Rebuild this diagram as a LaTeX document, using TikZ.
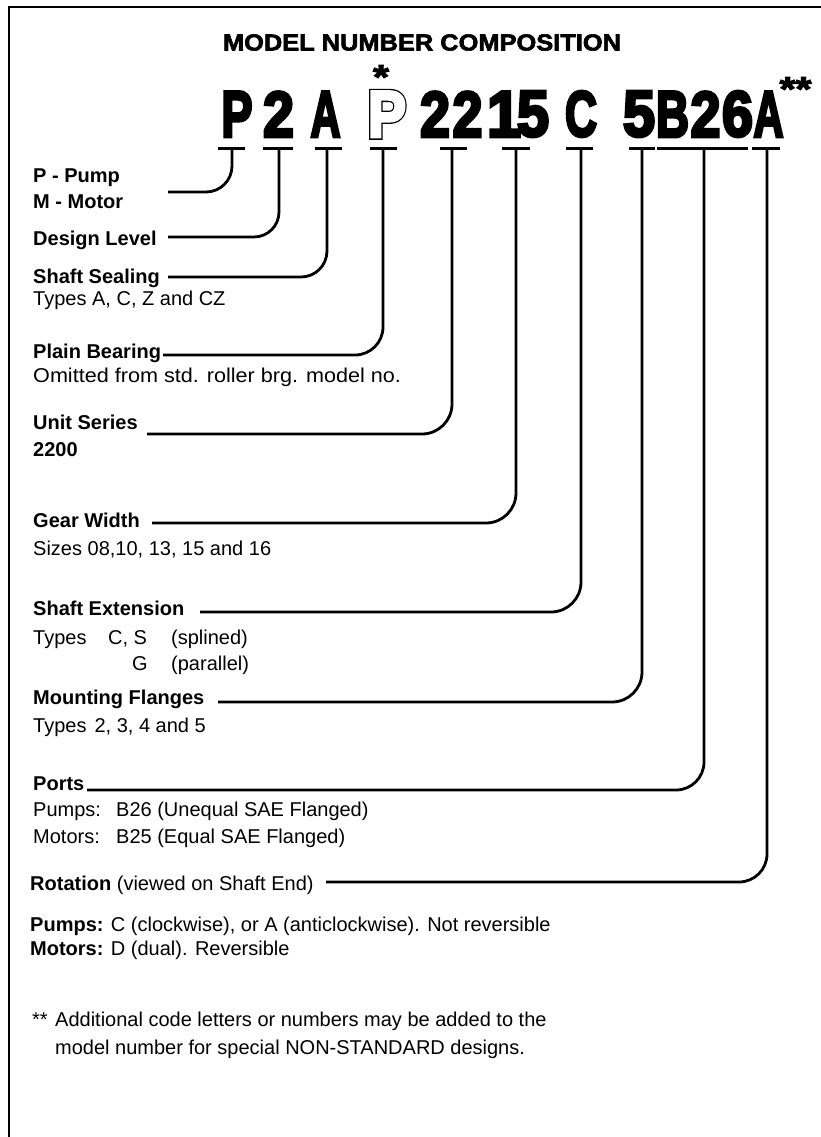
\documentclass[tikz,border=0pt]{standalone}
\usepackage{fontspec}
\usepackage{graphicx}
\setmainfont{Liberation Sans}
\newfontfamily\heavy[FakeBold=5]{Liberation Sans Bold}
\newfontfamily\heavyoutline[FakeBold=9]{Liberation Sans Bold}
\newfontfamily\titlefont[FakeBold=2.5]{Liberation Sans Bold}
\newfontfamily\starfont[FakeBold=3]{Liberation Sans Bold}
\newcommand\bigch[2]{\resizebox{#1pt}{45pt}{\heavy #2}}
\newcommand\bigout[2]{\resizebox{#1pt}{45pt}{\heavyoutline #2}}
\newcommand\starmark[1]{\raisebox{-0.42em}{\scalebox{1.2}[1]{#1}}}
\tikzset{
  lbl/.style={anchor=base west, inner sep=0pt, font=\fontsize{20}{24}\selectfont},
  blbl/.style={anchor=base west, inner sep=0pt, font=\fontsize{20}{24}\selectfont\bfseries},
  big/.style={anchor=south, inner sep=0pt},
  star/.style={anchor=north, inner sep=0pt, font=\fontsize{34}{34}\starfont},
  leader/.style={line width=2.8pt, rounded corners=28pt},
  tbar/.style={line width=3pt},
  frame/.style={line width=2.5pt}
}
\begin{document}
\begin{tikzpicture}[x=1pt,y=-1pt]
\useasboundingbox (0,0) rectangle (821,1137);
\draw[frame] (9,1137) -- (9,7) -- (821,7);

% title
\node[anchor=base, inner sep=0pt] (title) at (422,50.5)
  {\resizebox{398pt}{16.2pt}{\titlefont MODEL NUMBER COMPOSITION}};

% model number characters
\node[big] (c1) at (237,137) {\bigch{31}{P}};
\node[big] (c2) at (278.5,137) {\bigch{31}{2}};
\node[big] (c3) at (325.5,137) {\bigch{30}{A}};
\node[big] (c4o) at (387,137) {\bigout{38}{P}};
\node[big] (c4) at (387,137) {\color{white}\bigch{38}{P}};
\node[big] (c5) at (435,137) {\bigch{30}{2}};
\node[big] (c6) at (467.5,137) {\bigch{30}{2}};
\node[big] (c7) at (504,137) {\bigch{34}{1}};
\node[big] (c8) at (533,137) {\bigch{32}{5}};
\node[big] (c9) at (581,137) {\bigch{32}{C}};
\node[big] (c10) at (639,137) {\bigch{32}{5}};
\node[big] (c11) at (672.5,137) {\bigch{33}{B}};
\node[big] (c12) at (705.5,137) {\bigch{30}{2}};
\node[big] (c13) at (737.5,137) {\bigch{31}{6}};
\node[big] (c14) at (768.5,137) {\bigch{30}{A}};
\node[star] (st1) at (381,65) {\starmark{*}};
\node[star] (st2) at (795.5,77) {\starmark{**}};

% stem tops
\coordinate (s1) at (232,148);
\coordinate (s2) at (279,148);
\coordinate (s3) at (327,148);
\coordinate (s4) at (383,148);
\coordinate (s5) at (452,148);
\coordinate (s6) at (516,148);
\coordinate (s7) at (581,148);
\coordinate (s8) at (642,148);
\coordinate (s9) at (704,148);
\coordinate (s10) at (767,148);

% leader ends
\coordinate (e1) at (168,192);
\coordinate (e2) at (168,237);
\coordinate (e3) at (168,277);
\coordinate (e4) at (163,355);
\coordinate (e5) at (147,434);
\coordinate (e6) at (152,523);
\coordinate (e7) at (200,612);
\coordinate (e8) at (218,702);
\coordinate (e9) at (87,790);
\coordinate (e10) at (326,882);

% T bars
\draw[tbar] ([xshift=-14pt]s1) -- ([xshift=13pt]s1);
\draw[tbar] ([xshift=-16pt]s2) -- ([xshift=14pt]s2);
\draw[tbar] ([xshift=-12pt]s3) -- ([xshift=15pt]s3);
\draw[tbar] ([xshift=-13pt]s4) -- ([xshift=14pt]s4);
\draw[tbar] ([xshift=-12pt]s5) -- ([xshift=15pt]s5);
\draw[tbar] ([xshift=-14pt]s6) -- ([xshift=14pt]s6);
\draw[tbar] ([xshift=-15pt]s7) -- ([xshift=12pt]s7);
\draw[tbar] ([xshift=-13pt]s8) -- ([xshift=13pt]s8);
\draw[tbar] ([xshift=-47pt]s9) -- ([xshift=44pt]s9);
\draw[tbar] ([xshift=-15pt]s10) -- ([xshift=13pt]s10);

% leaders
\draw[leader, rounded corners=26pt] (s1) |- (e1);
\draw[leader, rounded corners=25pt] (s2) |- (e2);
\draw[leader, rounded corners=26pt] (s3) |- (e3);
\draw[leader] (s4) |- (e4);
\draw[leader, rounded corners=30pt] (s5) |- (e5);
\draw[leader, rounded corners=30pt] (s6) |- (e6);
\draw[leader, rounded corners=30pt] (s7) |- (e7);
\draw[leader, rounded corners=30pt] (s8) |- (e8);
\draw[leader, rounded corners=28pt] (s9) |- (e9);
\draw[leader, rounded corners=28pt] (s10) |- (e10);

% labels
\node[blbl] (lPump) at (33,182) {P - Pump};
\node[blbl] (lMotor) at (33,208) {M - Motor};
\node[blbl] (lDesign) at (33,245) {Design Level};
\node[blbl] (lSeal) at (33,283) {Shaft Sealing};
\node[lbl] (lSealT) at (33,305) {Types A, C, Z and CZ};
\node[blbl] (lPlain) at (33,358) {Plain Bearing};
\node[lbl] (lPlainT) at (33,382) {\scalebox{1.08}[1]{Omitted from std. roller brg. model no.}};
\node[blbl] (lUnit) at (33,429) {Unit Series};
\node[blbl] (lUnitT) at (33,456) {2200};
\node[blbl] (lGear) at (33,527) {Gear Width};
\node[lbl] (lGearT) at (33,555) {Sizes 08,10, 13, 15 and 16};
\node[blbl] (lExt) at (33,615) {Shaft Extension};
\node[lbl] (lExtA) at (33,644) {Types};
\node[lbl] (lExtB) at (108,644) {C, S};
\node[lbl] (lExtC) at (171,644) {(splined)};
\node[lbl] (lExtD) at (132,670) {G};
\node[lbl] (lExtE) at (171,670) {(parallel)};
\node[blbl] (lMount) at (33,704) {Mounting Flanges};
\node[lbl] (lMountT) at (33,732) {Types\hspace{8pt}2, 3, 4 and 5};
\node[blbl] (lPorts) at (33,790) {Ports};
\node[lbl] (lPortsA) at (33,816) {\makebox[83pt][l]{Pumps:}B26 (Unequal SAE Flanged)};
\node[lbl] (lPortsB) at (33,843) {\makebox[83pt][l]{Motors:}B25 (Equal SAE Flanged)};
\node[lbl] (lRot) at (30,890) {\textbf{Rotation} (viewed on Shaft End)};
\node[lbl] (lRotA) at (30,931) {\textbf{Pumps:} C (clockwise), or A (anticlockwise). Not reversible};
\node[lbl] (lRotB) at (30,955) {\textbf{Motors:} D (dual). Reversible};
\node[lbl] (fnS) at (32,1026) {**};
\node[lbl] (fnA) at (55,1026) {Additional code letters or numbers may be added to the};
\node[lbl] (fnB) at (55,1054) {model number for special NON-STANDARD designs.};
\end{tikzpicture}
\end{document}
